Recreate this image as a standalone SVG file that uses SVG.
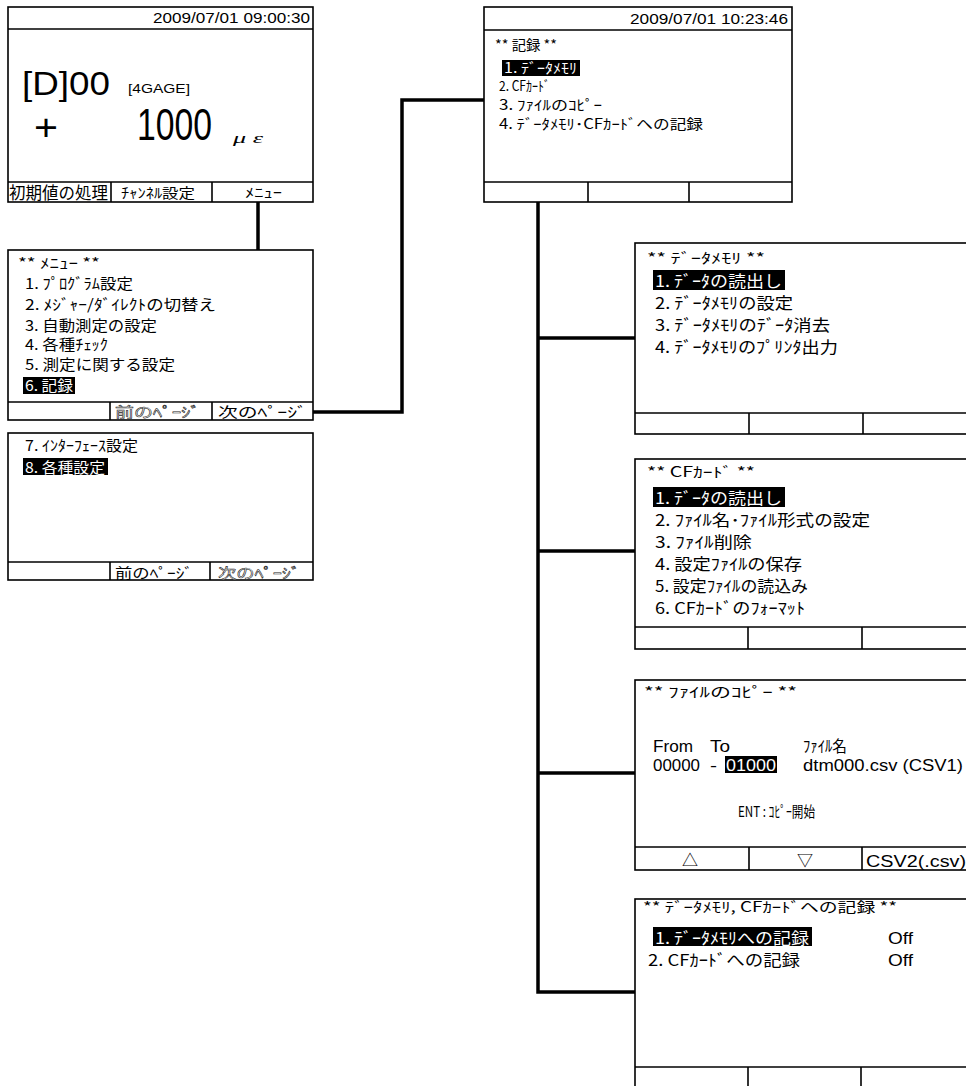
<svg xmlns="http://www.w3.org/2000/svg" width="966" height="1086" viewBox="0 0 966 1086">
<style>
text{font-family:"Noto Sans CJK JP","Liberation Sans",sans-serif;fill:#000;}
.t{font-size:15px;}
.s{font-size:14px;}
.m{font-size:16px;}
.num{font-family:"Liberation Sans","Noto Sans CJK JP",sans-serif;}
.w{fill:#fff;}
.h{fill:#fff;stroke:#222;stroke-width:0.5px;}
.box{fill:#fff;stroke:#000;stroke-width:1.6;}
.ln{stroke:#000;stroke-width:1.6;fill:none;}
.hl{fill:#000;}
.con{stroke:#000;stroke-width:3.5;fill:none;stroke-linejoin:miter;}
</style>
<rect width="966" height="1086" fill="#fff"/>

<g id="connectors">
<line class="con" x1="258" y1="202" x2="258" y2="250"/>
<polyline class="con" points="313,412 402,412 402,100 484,100"/>
<polyline class="con" points="538,202 538,992 635,992"/>
<line class="con" x1="538" y1="338" x2="635" y2="338"/>
<line class="con" x1="538" y1="551" x2="635" y2="551"/>
<line class="con" x1="538" y1="773" x2="635" y2="773"/>
</g>

<g id="screen-main">
<rect class="box" x="8" y="7" width="305" height="195"/>
<line class="ln" x1="8" y1="29" x2="313" y2="29"/>
<line class="ln" x1="8" y1="182" x2="313" y2="182"/>
<line class="ln" x1="111" y1="182" x2="111" y2="202"/>
<line class="ln" x1="212" y1="182" x2="212" y2="202"/>
<text class="num" x="153" y="23" font-size="14" textLength="157" lengthAdjust="spacingAndGlyphs">2009/07/01 09:00:30</text>
<text class="num" x="22" y="95" font-size="33" textLength="88" lengthAdjust="spacingAndGlyphs">[D]00</text>
<text class="num" x="128" y="93" font-size="12" textLength="62" lengthAdjust="spacingAndGlyphs">[4GAGE]</text>
<text class="num" x="34" y="140" font-size="36" textLength="24" lengthAdjust="spacingAndGlyphs">+</text>
<text class="num" x="137" y="140" font-size="44" textLength="75" lengthAdjust="spacingAndGlyphs">1000</text>
<text x="233" y="143" font-size="14" font-style="italic" style="font-family:'Liberation Serif',serif" textLength="30" lengthAdjust="spacingAndGlyphs">μ ε</text>
<text x="9" y="199" font-size="17" textLength="99" lengthAdjust="spacingAndGlyphs">初期値の処理</text>
<text x="121" y="198" font-size="14" textLength="74" lengthAdjust="spacingAndGlyphs">ﾁｬﾝﾈﾙ設定</text>
<text x="245" y="197" font-size="13" textLength="37" lengthAdjust="spacingAndGlyphs">ﾒﾆｭｰ</text>
</g>

<g id="screen-menu1">
<rect class="box" x="8" y="250" width="305" height="170"/>
<line class="ln" x1="8" y1="402" x2="313" y2="402"/>
<line class="ln" x1="110" y1="402" x2="110" y2="420"/>
<line class="ln" x1="212" y1="402" x2="212" y2="420"/>
<text class="s" x="18" y="268" textLength="82" lengthAdjust="spacingAndGlyphs">** ﾒﾆｭｰ **</text>
<text class="t" x="25" y="289" textLength="108" lengthAdjust="spacingAndGlyphs">1. ﾌﾟﾛｸﾞﾗﾑ設定</text>
<text class="t" x="25" y="310" textLength="191" lengthAdjust="spacingAndGlyphs">2. ﾒｼﾞｬｰ/ﾀﾞｲﾚｸﾄの切替え</text>
<text class="t" x="25" y="331" textLength="132" lengthAdjust="spacingAndGlyphs">3. 自動測定の設定</text>
<text class="t" x="25" y="350" textLength="83" lengthAdjust="spacingAndGlyphs">4. 各種ﾁｪｯｸ</text>
<text class="t" x="25" y="370" textLength="150" lengthAdjust="spacingAndGlyphs">5. 測定に関する設定</text>
<rect class="hl" x="23" y="377" width="52" height="17"/>
<text class="t w" x="25" y="391" textLength="48" lengthAdjust="spacingAndGlyphs">6. 記録</text>
<text class="s h" x="115" y="417" textLength="85" lengthAdjust="spacingAndGlyphs">前のﾍﾟｰｼﾞ</text>
<text class="s" x="218" y="417" textLength="89" lengthAdjust="spacingAndGlyphs">次のﾍﾟｰｼﾞ</text>
</g>

<g id="screen-menu2">
<rect class="box" x="8" y="433" width="305" height="147"/>
<line class="ln" x1="8" y1="562" x2="313" y2="562"/>
<line class="ln" x1="110" y1="562" x2="110" y2="580"/>
<line class="ln" x1="210" y1="562" x2="210" y2="580"/>
<text class="t" x="25" y="451" textLength="113" lengthAdjust="spacingAndGlyphs">7. ｲﾝﾀｰﾌｪｰｽ設定</text>
<rect class="hl" x="23" y="458" width="85" height="17"/>
<text class="t w" x="25" y="473" textLength="80" lengthAdjust="spacingAndGlyphs">8. 各種設定</text>
<text class="s" x="115" y="578" textLength="78" lengthAdjust="spacingAndGlyphs">前のﾍﾟｰｼﾞ</text>
<text class="s h" x="218" y="578" textLength="82" lengthAdjust="spacingAndGlyphs">次のﾍﾟｰｼﾞ</text>
</g>

<g id="screen-record">
<rect class="box" x="484" y="7" width="308" height="195"/>
<line class="ln" x1="484" y1="30" x2="792" y2="30"/>
<line class="ln" x1="484" y1="182" x2="792" y2="182"/>
<line class="ln" x1="588" y1="182" x2="588" y2="202"/>
<line class="ln" x1="689" y1="182" x2="689" y2="202"/>
<text class="num" x="630" y="24" font-size="14" textLength="158" lengthAdjust="spacingAndGlyphs">2009/07/01 10:23:46</text>
<text class="s" x="495" y="50" textLength="62" lengthAdjust="spacingAndGlyphs">** 記録 **</text>
<rect class="hl" x="502" y="60" width="78" height="16"/>
<text class="s w" x="504" y="73" textLength="73" lengthAdjust="spacingAndGlyphs">1. ﾃﾞｰﾀﾒﾓﾘ</text>
<text class="s" x="499" y="91" textLength="51" lengthAdjust="spacingAndGlyphs">2. CFｶｰﾄﾞ</text>
<text class="s" x="499" y="110" textLength="103" lengthAdjust="spacingAndGlyphs">3. ﾌｧｲﾙのｺﾋﾟｰ</text>
<text class="s" x="499" y="129" textLength="204" lengthAdjust="spacingAndGlyphs">4. ﾃﾞｰﾀﾒﾓﾘ･CFｶｰﾄﾞへの記録</text>
</g>

<g id="screen-datamemory">
<rect class="box" x="635" y="243" width="345" height="191"/>
<line class="ln" x1="635" y1="413" x2="980" y2="413"/>
<line class="ln" x1="749" y1="413" x2="749" y2="434"/>
<line class="ln" x1="863" y1="413" x2="863" y2="434"/>
<text class="s" x="647" y="263" textLength="118" lengthAdjust="spacingAndGlyphs">** ﾃﾞｰﾀﾒﾓﾘ **</text>
<rect class="hl" x="653" y="270" width="132" height="20"/>
<text class="m w" x="655" y="287" textLength="127" lengthAdjust="spacingAndGlyphs">1. ﾃﾞｰﾀの読出し</text>
<text class="m" x="655" y="309" textLength="138" lengthAdjust="spacingAndGlyphs">2. ﾃﾞｰﾀﾒﾓﾘの設定</text>
<text class="m" x="655" y="331" textLength="175" lengthAdjust="spacingAndGlyphs">3. ﾃﾞｰﾀﾒﾓﾘのﾃﾞｰﾀ消去</text>
<text class="m" x="655" y="353" textLength="183" lengthAdjust="spacingAndGlyphs">4. ﾃﾞｰﾀﾒﾓﾘのﾌﾟﾘﾝﾀ出力</text>
</g>

<g id="screen-cfcard">
<rect class="box" x="635" y="459" width="345" height="190"/>
<line class="ln" x1="635" y1="627" x2="980" y2="627"/>
<line class="ln" x1="748" y1="627" x2="748" y2="649"/>
<line class="ln" x1="862" y1="627" x2="862" y2="649"/>
<text class="s" x="647" y="477" textLength="108" lengthAdjust="spacingAndGlyphs">** CFｶｰﾄﾞ **</text>
<rect class="hl" x="653" y="487" width="132" height="20"/>
<text class="m w" x="655" y="504" textLength="127" lengthAdjust="spacingAndGlyphs">1. ﾃﾞｰﾀの読出し</text>
<text class="m" x="655" y="526" textLength="215" lengthAdjust="spacingAndGlyphs">2. ﾌｧｲﾙ名･ﾌｧｲﾙ形式の設定</text>
<text class="m" x="655" y="548" textLength="97" lengthAdjust="spacingAndGlyphs">3. ﾌｧｲﾙ削除</text>
<text class="m" x="655" y="570" textLength="147" lengthAdjust="spacingAndGlyphs">4. 設定ﾌｧｲﾙの保存</text>
<text class="m" x="655" y="592" textLength="153" lengthAdjust="spacingAndGlyphs">5. 設定ﾌｧｲﾙの読込み</text>
<text class="m" x="655" y="614" textLength="150" lengthAdjust="spacingAndGlyphs">6. CFｶｰﾄﾞのﾌｫｰﾏｯﾄ</text>
</g>

<g id="screen-filecopy">
<rect class="box" x="635" y="680" width="345" height="190"/>
<line class="ln" x1="635" y1="847" x2="980" y2="847"/>
<line class="ln" x1="749" y1="847" x2="749" y2="870"/>
<line class="ln" x1="862" y1="847" x2="862" y2="870"/>
<text class="s" x="644" y="697" textLength="153" lengthAdjust="spacingAndGlyphs">** ﾌｧｲﾙのｺﾋﾟｰ **</text>
<text class="m num" x="653" y="752" textLength="40" lengthAdjust="spacingAndGlyphs">From</text>
<text class="m num" x="710" y="752" textLength="20" lengthAdjust="spacingAndGlyphs">To</text>
<text class="m" x="803" y="752" textLength="44" lengthAdjust="spacingAndGlyphs">ﾌｧｲﾙ名</text>
<text class="m num" x="653" y="771" textLength="47" lengthAdjust="spacingAndGlyphs">00000</text>
<text class="m num" x="710" y="771" textLength="7" lengthAdjust="spacingAndGlyphs">-</text>
<rect class="hl" x="725" y="756" width="52" height="17"/>
<text class="m num w" x="726" y="771" textLength="50" lengthAdjust="spacingAndGlyphs">01000</text>
<text class="m num" x="803" y="771" textLength="160" lengthAdjust="spacingAndGlyphs">dtm000.csv (CSV1)</text>
<text class="t" x="738" y="817" textLength="77" lengthAdjust="spacingAndGlyphs">ENT : ｺﾋﾟｰ開始</text>
<text class="m" x="690" y="866" text-anchor="middle">△</text>
<text class="m" x="805" y="866" text-anchor="middle">▽</text>
<text class="m num" x="866" y="867" textLength="100" lengthAdjust="spacingAndGlyphs">CSV2(.csv)</text>
</g>

<g id="screen-recording">
<rect class="box" x="635" y="899" width="345" height="200"/>
<line class="ln" x1="635" y1="1067" x2="980" y2="1067"/>
<line class="ln" x1="748" y1="1067" x2="748" y2="1090"/>
<line class="ln" x1="861" y1="1067" x2="861" y2="1090"/>
<text class="s" x="643" y="912" textLength="254" lengthAdjust="spacingAndGlyphs">** ﾃﾞｰﾀﾒﾓﾘ, CFｶｰﾄﾞへの記録 **</text>
<rect class="hl" x="653" y="927" width="159" height="19"/>
<text class="m w" x="655" y="944" textLength="154" lengthAdjust="spacingAndGlyphs">1. ﾃﾞｰﾀﾒﾓﾘへの記録</text>
<text class="m num" x="888" y="944" textLength="25" lengthAdjust="spacingAndGlyphs">Off</text>
<text class="m" x="648" y="966" textLength="152" lengthAdjust="spacingAndGlyphs">2. CFｶｰﾄﾞへの記録</text>
<text class="m num" x="888" y="966" textLength="25" lengthAdjust="spacingAndGlyphs">Off</text>
</g>
</svg>
